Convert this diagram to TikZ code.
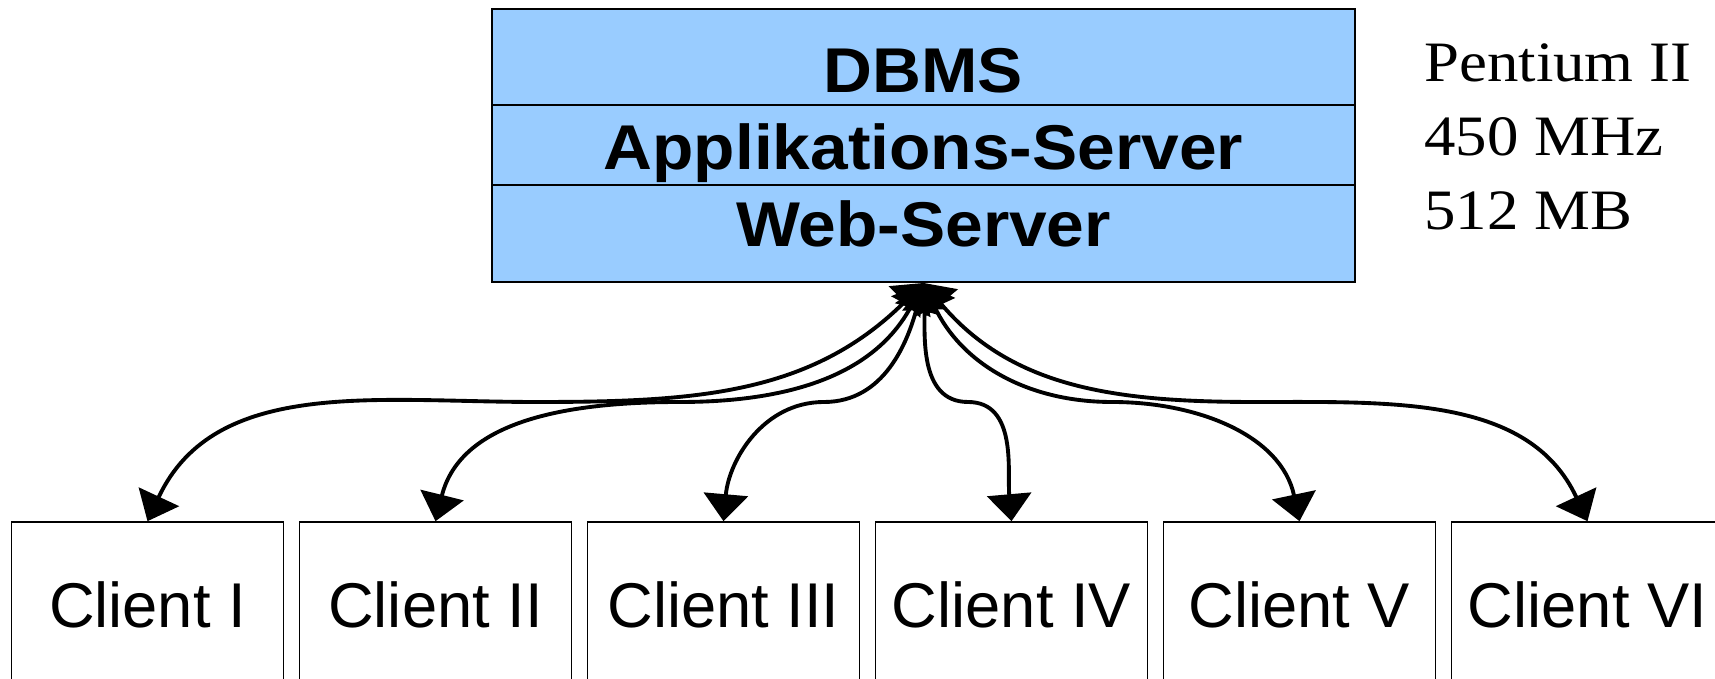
\documentclass[tikz,border=0pt]{standalone}
\usepackage{fontspec}
\usetikzlibrary{arrows.meta}
\newfontfamily\layerfont[FakeStretch=1.07]{Liberation Sans}
\newfontfamily\clientfont{Liberation Sans}
\newfontfamily\specfont[FakeStretch=1.1]{Liberation Serif}
\definecolor{serverblue}{HTML}{99CCFF}

\begin{document}
\begin{tikzpicture}[>={Triangle[length=0.54cm,width=0.88cm]}]
\tikzstyle{server_style} = [rectangle, draw=black, fill=serverblue, line width=1.1pt, minimum width=17.26cm, minimum height=5.46cm]
\tikzstyle{layer_style} = [inner sep=0, anchor=base, font=\layerfont\bfseries\fontsize{36}{40}\selectfont]
\tikzstyle{spec_style} = [inner sep=0, anchor=base west, font=\specfont\fontsize{32.5}{36}\selectfont]
\tikzstyle{client_style} = [rectangle, draw=black, line width=0.9pt, minimum width=5.44cm, minimum height=3.3cm, font=\clientfont\fontsize{36}{40}\selectfont]
\tikzstyle{edge_style} = [draw=black, line width=2.2pt, <->]

\useasboundingbox (0,0) rectangle (34.3,13.58);

\node[server_style] (srv) at (18.47,10.67) {};
\draw[line width=1.1pt] (srv.west |- 0,11.48) -- (srv.east |- 0,11.48);
\draw[line width=1.1pt] (srv.west |- 0,9.88) -- (srv.east |- 0,9.88);

\node[layer_style] (dbms) at (18.47,11.72) {DBMS};
\node[layer_style] (appsrv) at (18.47,10.18) {Applikations-Server};
\node[layer_style] (websrv) at (18.47,8.64) {Web-Server};

\node[spec_style] (cpu) at (28.48,11.94) {Pentium II};
\node[spec_style] (clock) at (28.48,10.46) {450 MHz};
\node[spec_style] (ram) at (28.48,8.98) {512 MB};

\node[client_style] (c1) at (2.95,1.49) {Client I};
\node[client_style] (c2) at (8.71,1.49) {Client II};
\node[client_style] (c3) at (14.47,1.49) {Client III};
\node[client_style] (c4) at (20.23,1.49) {Client IV};
\node[client_style] (c5) at (25.99,1.49) {Client V};
\node[client_style] (c6) at (31.75,1.49) {Client VI};

\coordinate (m1) at (10.72,5.54);
\coordinate (m2) at (13.60,5.54);
\coordinate (m3) at (16.48,5.54);
\coordinate (m4) at (19.36,5.54);
\coordinate (m5) at (22.24,5.54);
\coordinate (m6) at (25.12,5.54);

\draw[edge_style] (srv.south) to[out=-135,in=0] (m1) to[out=180,in=65] (c1.north);
\draw[edge_style] (srv.south) to[out=-118,in=0] (m2) to[out=180,in=76] (c2.north);
\draw[edge_style] (srv.south) to[out=-105,in=0] (m3) to[out=180,in=85] (c3.north);
\draw[edge_style] (srv.south) to[out=-88,in=180] (m4) to[out=0,in=95] (c4.north);
\draw[edge_style] (srv.south) to[out=-65,in=180] (m5) to[out=0,in=102] (c5.north);
\draw[edge_style] (srv.south) to[out=-50,in=180] (m6) to[out=0,in=115] (c6.north);
\end{tikzpicture}
\end{document}
